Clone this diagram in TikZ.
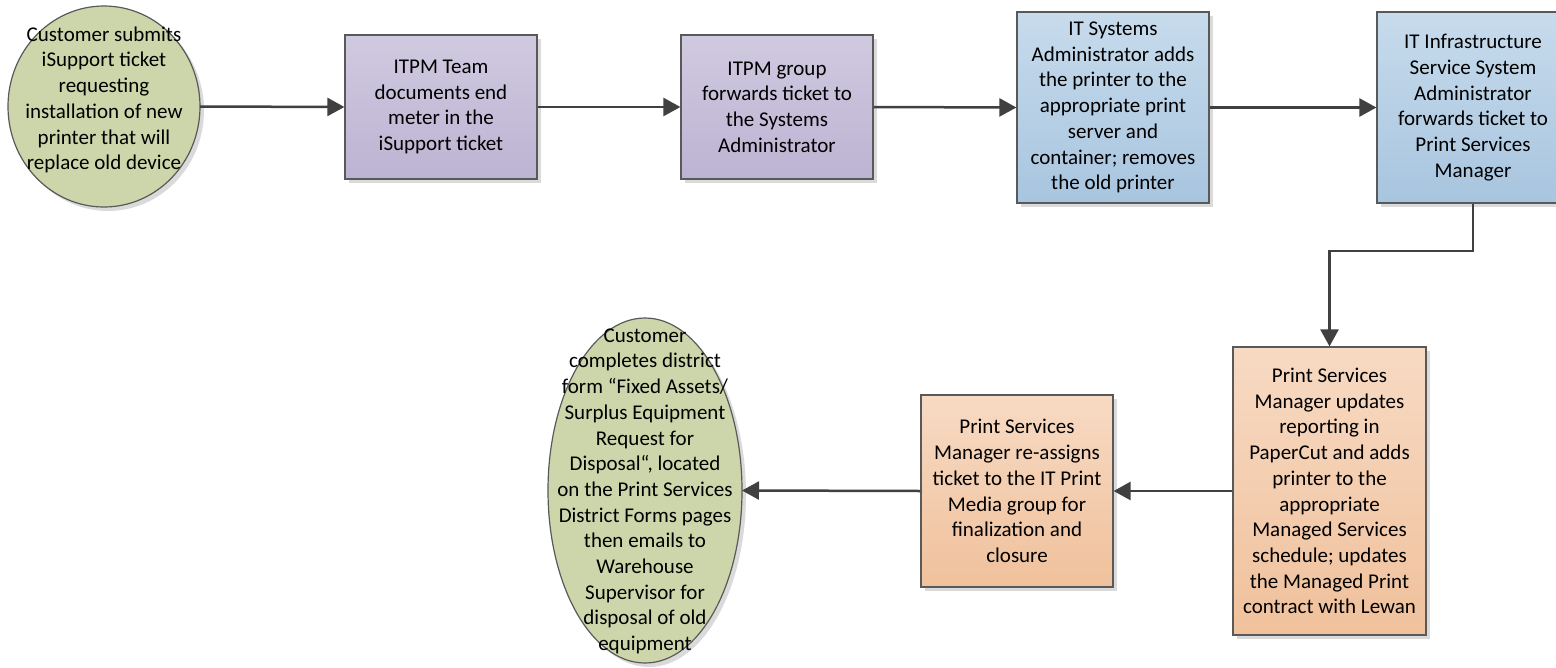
\documentclass[tikz,border=0pt]{standalone}
\usepackage{fontspec}
\setmainfont{Carlito}
\usetikzlibrary{arrows.meta,shapes.geometric,shadows}
\definecolor{edgegray}{HTML}{595959}
\definecolor{linegray}{HTML}{404040}
\definecolor{greenfill}{HTML}{CDD6AA}
\definecolor{purpletop}{HTML}{D0CAE0}
\definecolor{purplebot}{HTML}{BDB3D3}
\definecolor{bluetop}{HTML}{C7DBEC}
\definecolor{bluebot}{HTML}{A8C5DF}
\definecolor{orangetop}{HTML}{F7DAC3}
\definecolor{orangebot}{HTML}{F0C19C}
\definecolor{shadowgray}{HTML}{DADADA}
\tikzset{
  x=1pt, y=-1pt,
  every node/.style={font=\fontsize{21}{25.7}\selectfont, text=black},
  boxbase/.style={rectangle, draw=edgegray, line width=1.2pt, align=center,
    inner sep=2pt, minimum width=192pt,
    drop shadow={shadow xshift=4pt, shadow yshift=-4pt, fill=shadowgray, opacity=1}},
  purplebox/.style={boxbase, top color=purpletop, bottom color=purplebot},
  bluebox/.style={boxbase, top color=bluetop, bottom color=bluebot},
  orangebox/.style={boxbase, top color=orangetop, bottom color=orangebot},
  terminal/.style={ellipse, draw=edgegray, line width=1.2pt, fill=greenfill,
    inner sep=0pt, outer sep=0pt,
    drop shadow={shadow xshift=4pt, shadow yshift=-4pt, fill=shadowgray, opacity=1}},
  flow/.style={draw=linegray, line width=2.5pt,
    -{Triangle[length=17pt,width=18pt]}},
}
\newcommand{\ellText}[2]{\smash{\makebox[0pt]{\raisebox{#1}{\begin{tabular}{@{}c@{}}#2\end{tabular}}}}}
\begin{document}
\begin{tikzpicture}
\useasboundingbox (0,0) rectangle (1556,667);
\fill[white] (0,0) rectangle (1556,667);

\node[terminal, minimum width=192pt, minimum height=201pt] (e1) at (104,106.5)
  {\ellText{1pt}{Customer submits\\iSupport ticket\\requesting\\installation of new\\printer that will\\replace old device}};

\node[purplebox, minimum height=144pt] (b1) at (441,107)
  {ITPM Team\\documents end\\meter in the\\iSupport ticket};

\node[purplebox, minimum height=144pt] (b2) at (777,107)
  {ITPM group\\forwards ticket to\\the Systems\\Administrator};

\node[bluebox, minimum height=191pt] (b3) at (1113,107.5)
  {IT Systems\\Administrator adds\\the printer to the\\appropriate print\\server and\\container; removes\\the old printer};

\node[bluebox, minimum height=191pt] (b4) at (1473,107.5)
  {IT Infrastructure\\Service System\\Administrator\\forwards ticket to\\Print Services\\Manager};

\node[orangebox, minimum width=193pt, minimum height=288pt] (b5) at (1329.5,491)
  {Print Services\\Manager updates\\reporting in\\PaperCut and adds\\printer to the\\appropriate\\Managed Services\\schedule; updates\\the Managed Print\\contract with Lewan};

\node[orangebox, minimum height=192pt] (b6) at (1017,491)
  {Print Services\\Manager re-assigns\\ticket to the IT Print\\Media group for\\finalization and\\closure};

\node[terminal, minimum width=194pt, minimum height=345pt] (e2) at (645,490.5)
  {\ellText{-6pt}{Customer\\completes district\\form “Fixed Assets/\\Surplus Equipment\\Request for\\Disposal“, located\\on the Print Services\\District Forms pages\\then emails to\\Warehouse\\Supervisor for\\disposal of old\\equipment}};

\coordinate (bend) at (1473,251);

\draw[flow] (e1.east) -- (b1.west);
\draw[flow] (b1.east) -- (b2.west);
\draw[flow] (b2.east) -- (b3.west);
\draw[flow] (b3.east) -- (b4.west);
\draw[flow] (b4.south) -- (bend) -| (b5.north);
\draw[flow] (b5.west) -- (b6.east);
\draw[flow] (b6.west) -- (e2.east);
\end{tikzpicture}
\end{document}
